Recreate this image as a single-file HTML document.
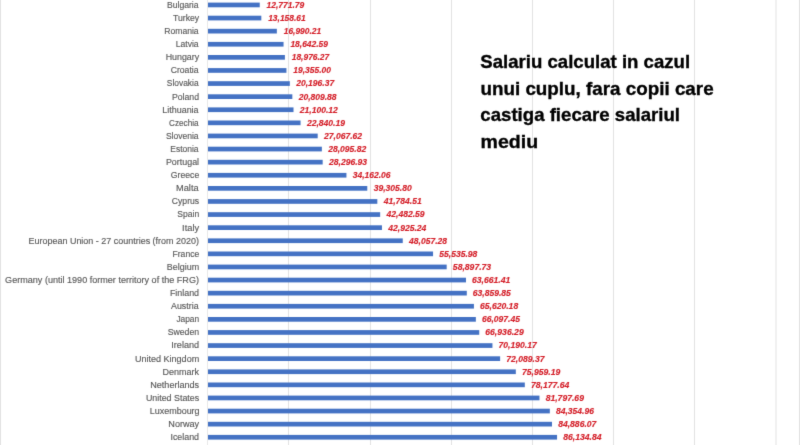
<!DOCTYPE html>
<html><head><meta charset="utf-8"><title>Salariu calculat</title>
<style>html,body{margin:0;padding:0;background:#fff;width:800px;height:445px;overflow:hidden}svg{display:block}</style>
</head><body>
<svg width="800" height="445" viewBox="0 0 800 445">
<defs><filter id="soft" x="0" y="0" width="1" height="1" color-interpolation-filters="sRGB"><feConvolveMatrix order="3" kernelMatrix="0.0100 0.0800 0.0100 0.0800 0.6400 0.0800 0.0100 0.0800 0.0100" edgeMode="duplicate"/></filter></defs>
<g filter="url(#soft)">
<rect width="800" height="445" fill="#fff"/>
<rect x="0" y="0" width="1" height="445" fill="#E2E2E2"/>
<rect x="799" y="0" width="1" height="445" fill="#E2E2E2"/>
<rect x="207" y="0" width="1" height="445" fill="#E8E8E8"/>
<rect x="288" y="0" width="1" height="445" fill="#E2E2E2"/>
<rect x="370" y="0" width="1" height="445" fill="#E2E2E2"/>
<rect x="451" y="0" width="1" height="445" fill="#E2E2E2"/>
<rect x="532" y="0" width="1" height="445" fill="#E2E2E2"/>
<rect x="613" y="0" width="1" height="445" fill="#E2E2E2"/>
<rect x="694" y="0" width="1" height="445" fill="#E2E2E2"/>
<rect x="775.5" y="0" width="1" height="445" fill="#E2E2E2"/>
<rect x="208.0" y="2.60" width="51.76" height="4.7" fill="#4472C4"/>
<rect x="208.0" y="15.70" width="53.32" height="4.7" fill="#4472C4"/>
<rect x="208.0" y="28.80" width="68.85" height="4.7" fill="#4472C4"/>
<rect x="208.0" y="41.90" width="75.55" height="4.7" fill="#4472C4"/>
<rect x="208.0" y="55.00" width="76.90" height="4.7" fill="#4472C4"/>
<rect x="208.0" y="68.10" width="78.43" height="4.7" fill="#4472C4"/>
<rect x="208.0" y="81.20" width="81.84" height="4.7" fill="#4472C4"/>
<rect x="208.0" y="94.30" width="84.33" height="4.7" fill="#4472C4"/>
<rect x="208.0" y="107.40" width="85.51" height="4.7" fill="#4472C4"/>
<rect x="208.0" y="120.50" width="92.56" height="4.7" fill="#4472C4"/>
<rect x="208.0" y="133.60" width="109.69" height="4.7" fill="#4472C4"/>
<rect x="208.0" y="146.70" width="113.86" height="4.7" fill="#4472C4"/>
<rect x="208.0" y="159.80" width="114.67" height="4.7" fill="#4472C4"/>
<rect x="208.0" y="172.90" width="138.44" height="4.7" fill="#4472C4"/>
<rect x="208.0" y="186.00" width="159.28" height="4.7" fill="#4472C4"/>
<rect x="208.0" y="199.10" width="169.33" height="4.7" fill="#4472C4"/>
<rect x="208.0" y="212.20" width="172.16" height="4.7" fill="#4472C4"/>
<rect x="208.0" y="225.30" width="173.95" height="4.7" fill="#4472C4"/>
<rect x="208.0" y="238.40" width="194.75" height="4.7" fill="#4472C4"/>
<rect x="208.0" y="251.50" width="225.05" height="4.7" fill="#4472C4"/>
<rect x="208.0" y="264.60" width="238.68" height="4.7" fill="#4472C4"/>
<rect x="208.0" y="277.70" width="257.98" height="4.7" fill="#4472C4"/>
<rect x="208.0" y="290.80" width="258.79" height="4.7" fill="#4472C4"/>
<rect x="208.0" y="303.90" width="265.92" height="4.7" fill="#4472C4"/>
<rect x="208.0" y="317.00" width="267.85" height="4.7" fill="#4472C4"/>
<rect x="208.0" y="330.10" width="271.25" height="4.7" fill="#4472C4"/>
<rect x="208.0" y="343.20" width="284.44" height="4.7" fill="#4472C4"/>
<rect x="208.0" y="356.30" width="292.13" height="4.7" fill="#4472C4"/>
<rect x="208.0" y="369.40" width="307.82" height="4.7" fill="#4472C4"/>
<rect x="208.0" y="382.50" width="316.81" height="4.7" fill="#4472C4"/>
<rect x="208.0" y="395.60" width="331.48" height="4.7" fill="#4472C4"/>
<rect x="208.0" y="408.70" width="341.84" height="4.7" fill="#4472C4"/>
<rect x="208.0" y="421.80" width="343.99" height="4.7" fill="#4472C4"/>
<rect x="208.0" y="434.90" width="349.05" height="4.7" fill="#4472C4"/>
<g font-family="Liberation Sans, Arial, sans-serif" font-size="8.9" fill="#595959" stroke="#595959" stroke-width="0.15">
<text x="166.98" y="7.85" textLength="31.61" lengthAdjust="spacingAndGlyphs">Bulgaria</text>
<text x="173.00" y="20.95" textLength="26.17" lengthAdjust="spacingAndGlyphs">Turkey</text>
<text x="164.30" y="34.05" textLength="34.29" lengthAdjust="spacingAndGlyphs">Romania</text>
<text x="175.73" y="47.15" textLength="22.86" lengthAdjust="spacingAndGlyphs">Latvia</text>
<text x="165.65" y="60.25" textLength="33.52" lengthAdjust="spacingAndGlyphs">Hungary</text>
<text x="170.65" y="73.35" textLength="27.94" lengthAdjust="spacingAndGlyphs">Croatia</text>
<text x="166.81" y="86.45" textLength="31.78" lengthAdjust="spacingAndGlyphs">Slovakia</text>
<text x="171.91" y="99.55" textLength="27.14" lengthAdjust="spacingAndGlyphs">Poland</text>
<text x="162.34" y="112.65" textLength="36.25" lengthAdjust="spacingAndGlyphs">Lithuania</text>
<text x="169.10" y="125.75" textLength="29.49" lengthAdjust="spacingAndGlyphs">Czechia</text>
<text x="165.88" y="138.85" textLength="32.71" lengthAdjust="spacingAndGlyphs">Slovenia</text>
<text x="170.25" y="151.95" textLength="28.34" lengthAdjust="spacingAndGlyphs">Estonia</text>
<text x="165.92" y="165.05" textLength="33.16" lengthAdjust="spacingAndGlyphs">Portugal</text>
<text x="170.82" y="178.15" textLength="28.42" lengthAdjust="spacingAndGlyphs">Greece</text>
<text x="176.07" y="191.25" textLength="22.52" lengthAdjust="spacingAndGlyphs">Malta</text>
<text x="171.85" y="204.35" textLength="27.30" lengthAdjust="spacingAndGlyphs">Cyprus</text>
<text x="177.31" y="217.45" textLength="21.83" lengthAdjust="spacingAndGlyphs">Spain</text>
<text x="182.14" y="230.55" textLength="17.04" lengthAdjust="spacingAndGlyphs">Italy</text>
<text x="28.56" y="243.65" textLength="170.40" lengthAdjust="spacingAndGlyphs">European Union - 27 countries (from 2020)</text>
<text x="172.52" y="256.75" textLength="26.72" lengthAdjust="spacingAndGlyphs">France</text>
<text x="166.88" y="269.85" textLength="32.31" lengthAdjust="spacingAndGlyphs">Belgium</text>
<text x="5.14" y="282.95" textLength="193.82" lengthAdjust="spacingAndGlyphs">Germany (until 1990 former territory of the FRG)</text>
<text x="169.94" y="296.05" textLength="29.12" lengthAdjust="spacingAndGlyphs">Finland</text>
<text x="171.02" y="309.15" textLength="27.57" lengthAdjust="spacingAndGlyphs">Austria</text>
<text x="176.40" y="322.25" textLength="22.72" lengthAdjust="spacingAndGlyphs">Japan</text>
<text x="167.66" y="335.35" textLength="31.49" lengthAdjust="spacingAndGlyphs">Sweden</text>
<text x="171.29" y="348.45" textLength="27.78" lengthAdjust="spacingAndGlyphs">Ireland</text>
<text x="134.90" y="361.55" textLength="64.30" lengthAdjust="spacingAndGlyphs">United Kingdom</text>
<text x="162.62" y="374.65" textLength="36.44" lengthAdjust="spacingAndGlyphs">Denmark</text>
<text x="150.21" y="387.75" textLength="48.96" lengthAdjust="spacingAndGlyphs">Netherlands</text>
<text x="145.91" y="400.85" textLength="53.25" lengthAdjust="spacingAndGlyphs">United States</text>
<text x="149.75" y="413.95" textLength="49.85" lengthAdjust="spacingAndGlyphs">Luxembourg</text>
<text x="168.35" y="427.05" textLength="30.82" lengthAdjust="spacingAndGlyphs">Norway</text>
<text x="170.46" y="440.15" textLength="28.60" lengthAdjust="spacingAndGlyphs">Iceland</text>
</g>
<g font-family="Liberation Sans, Arial, sans-serif" font-size="8.7" font-weight="bold" font-style="italic" fill="#D41E28" stroke="#D41E28" stroke-width="0.15">
<text x="266.61" y="7.85" textLength="37.61" lengthAdjust="spacingAndGlyphs">12,771.79</text>
<text x="268.18" y="20.95" textLength="37.47" lengthAdjust="spacingAndGlyphs">13,158.61</text>
<text x="283.71" y="34.05" textLength="37.47" lengthAdjust="spacingAndGlyphs">16,990.21</text>
<text x="290.40" y="47.15" textLength="37.61" lengthAdjust="spacingAndGlyphs">18,642.59</text>
<text x="291.76" y="60.25" textLength="37.46" lengthAdjust="spacingAndGlyphs">18,976.27</text>
<text x="293.29" y="73.35" textLength="37.60" lengthAdjust="spacingAndGlyphs">19,355.00</text>
<text x="296.20" y="86.45" textLength="37.96" lengthAdjust="spacingAndGlyphs">20,196.37</text>
<text x="298.69" y="99.55" textLength="37.92" lengthAdjust="spacingAndGlyphs">20,809.88</text>
<text x="299.86" y="112.65" textLength="38.01" lengthAdjust="spacingAndGlyphs">21,100.12</text>
<text x="306.92" y="125.75" textLength="38.11" lengthAdjust="spacingAndGlyphs">22,840.19</text>
<text x="324.05" y="138.85" textLength="38.01" lengthAdjust="spacingAndGlyphs">27,067.62</text>
<text x="328.21" y="151.95" textLength="38.01" lengthAdjust="spacingAndGlyphs">28,095.82</text>
<text x="329.03" y="165.05" textLength="38.10" lengthAdjust="spacingAndGlyphs">28,296.93</text>
<text x="352.81" y="178.15" textLength="37.73" lengthAdjust="spacingAndGlyphs">34,162.06</text>
<text x="373.66" y="191.25" textLength="38.08" lengthAdjust="spacingAndGlyphs">39,305.80</text>
<text x="383.69" y="204.35" textLength="37.97" lengthAdjust="spacingAndGlyphs">41,784.51</text>
<text x="386.52" y="217.45" textLength="38.11" lengthAdjust="spacingAndGlyphs">42,482.59</text>
<text x="388.31" y="230.55" textLength="38.09" lengthAdjust="spacingAndGlyphs">42,925.24</text>
<text x="409.11" y="243.65" textLength="37.92" lengthAdjust="spacingAndGlyphs">48,057.28</text>
<text x="439.24" y="256.75" textLength="38.09" lengthAdjust="spacingAndGlyphs">55,535.98</text>
<text x="452.87" y="269.85" textLength="38.27" lengthAdjust="spacingAndGlyphs">58,897.73</text>
<text x="472.01" y="282.95" textLength="38.30" lengthAdjust="spacingAndGlyphs">63,661.41</text>
<text x="472.82" y="296.05" textLength="38.07" lengthAdjust="spacingAndGlyphs">63,859.85</text>
<text x="479.95" y="309.15" textLength="38.25" lengthAdjust="spacingAndGlyphs">65,620.18</text>
<text x="481.89" y="322.25" textLength="38.07" lengthAdjust="spacingAndGlyphs">66,097.45</text>
<text x="485.28" y="335.35" textLength="38.44" lengthAdjust="spacingAndGlyphs">66,936.29</text>
<text x="498.58" y="348.45" textLength="38.17" lengthAdjust="spacingAndGlyphs">70,190.17</text>
<text x="506.28" y="361.55" textLength="38.17" lengthAdjust="spacingAndGlyphs">72,089.37</text>
<text x="521.96" y="374.65" textLength="38.33" lengthAdjust="spacingAndGlyphs">75,959.19</text>
<text x="530.95" y="387.75" textLength="38.31" lengthAdjust="spacingAndGlyphs">78,177.64</text>
<text x="545.67" y="400.85" textLength="38.27" lengthAdjust="spacingAndGlyphs">81,797.69</text>
<text x="556.04" y="413.95" textLength="37.90" lengthAdjust="spacingAndGlyphs">84,354.96</text>
<text x="558.19" y="427.05" textLength="38.12" lengthAdjust="spacingAndGlyphs">84,886.07</text>
<text x="563.25" y="440.15" textLength="38.26" lengthAdjust="spacingAndGlyphs">86,134.84</text>
</g>
<g font-family="Liberation Sans, Arial, sans-serif" font-size="18.5" font-weight="bold" fill="#000" stroke="#000" stroke-width="0.35">
<text x="480.35" y="68.20" textLength="209.74" lengthAdjust="spacingAndGlyphs">Salariu calculat in cazul</text>
<text x="480.47" y="94.50" textLength="233.15" lengthAdjust="spacingAndGlyphs">unui cuplu, fara copii care</text>
<text x="480.38" y="121.00" textLength="199.65" lengthAdjust="spacingAndGlyphs">castiga fiecare salariul</text>
<text x="480.64" y="147.80" textLength="57.53" lengthAdjust="spacingAndGlyphs">mediu</text>
</g>
</g>
</svg>
</body></html>
